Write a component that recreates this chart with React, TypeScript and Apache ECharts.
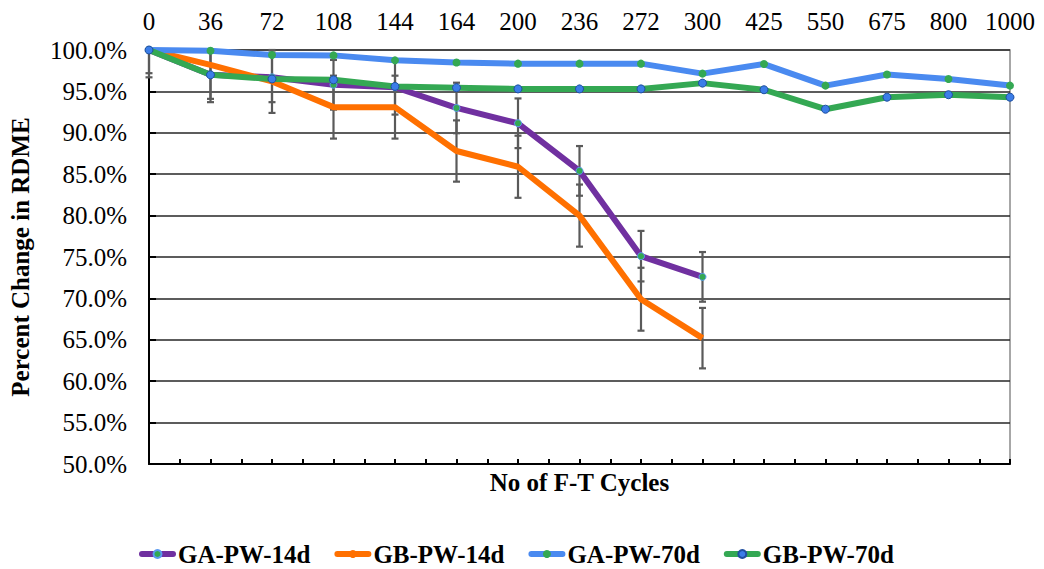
import React, { useEffect, useRef } from "react";
import * as echarts from "echarts";

const categories = ["0", "36", "72", "108", "144", "164", "200", "236", "272", "300", "425", "550", "675", "800", "1000"];

const gaPw14d = [100, 97.0, 96.7, 95.8, 95.5, 93.0, 91.15, 85.4, 75.1, 72.6];
const gbPw14d = [100, 98.2, 96.2, 93.1, 93.1, 87.8, 85.9, 80.0, 69.9, 65.2];
const gaPw70d = [100, 99.9, 99.4, 99.35, 98.75, 98.5, 98.35, 98.35, 98.35, 97.15, 98.3, 95.7, 97.05, 96.5, 95.7];
const gbPw70d = [100, 97.0, 96.5, 96.4, 95.6, 95.45, 95.3, 95.3, 95.3, 96.0, 95.2, 92.85, 94.3, 94.6, 94.3];

const gaPw14dErr = [2.8, 2.9, 3.0, 3.0, 3.3, 3.05, 3.0, 3.0, 3.05, 3.0];
const gbPw14dErr = [3.3, 4.5, 3.8, 3.8, 3.8, 3.7, 3.75, 3.75, 3.8, 3.65];

const seriesNames = ["GA-PW-14d", "GB-PW-14d", "GA-PW-70d", "GB-PW-70d"];

const FONT = '"Liberation Serif", "Times New Roman", serif';

function errData(vals: number[], errs: number[]) {
  return vals.map((v, i) => [i, v - errs[i], v + errs[i]]);
}

function renderErr(params: any, api: any) {
  const cs = params.coordSys;
  const idx = api.value(0);
  const lo = api.coord([idx, api.value(1)]);
  const hi = api.coord([idx, api.value(2)]);
  const x = lo[0];
  const top = cs.y;
  const bottom = cs.y + cs.height;
  let yHi = hi[1];
  let yLo = lo[1];
  const hiClipped = yHi < top;
  const loClipped = yLo > bottom;
  if (hiClipped) yHi = top;
  if (loClipped) yLo = bottom;
  const style = { stroke: "#5a5a5a", lineWidth: 2.2 };
  const cap = 3.5;
  const children: any[] = [
    { type: "line", shape: { x1: x, y1: yHi, x2: x, y2: yLo }, style },
  ];
  if (!hiClipped) children.push({ type: "line", shape: { x1: x - cap, y1: yHi, x2: x + cap, y2: yHi }, style });
  if (!loClipped) children.push({ type: "line", shape: { x1: x - cap, y1: yLo, x2: x + cap, y2: yLo }, style });
  return { type: "group", children };
}

export default function App() {
  const ref = useRef<HTMLDivElement>(null);
  useEffect(() => {
    if (!ref.current) return;
    const chart = echarts.init(ref.current, null, { renderer: "svg" });
    const option: any = {
      animation: false,
      backgroundColor: "#ffffff",
      textStyle: { fontFamily: FONT },
      grid: { left: 149, right: 34, top: 50, bottom: 105, show: true, borderColor: "#8a8a8a", borderWidth: 1.5 },
      legend: {
        data: seriesNames,
        left: 139,
        top: 541,
        padding: 0,
        itemWidth: 31,
        itemHeight: 10,
        itemGap: 24,
        lineStyle: { width: 6, cap: "round" },
        textStyle: { fontFamily: FONT, fontSize: 25, lineHeight: 26, fontWeight: "bold", color: "#000" },
      },
      xAxis: [
        {
          type: "category",
          data: categories,
          position: "top",
          boundaryGap: false,
          axisLine: { show: false },
          axisTick: { show: false },
          axisLabel: { fontFamily: FONT, fontSize: 25, color: "#000", margin: 16, interval: 0, hideOverlap: false },
          splitLine: { show: false },
        },
        {
          type: "value",
          position: "bottom",
          min: 0,
          max: 28,
          interval: 1,
          name: "No of F-T Cycles",
          nameLocation: "middle",
          nameGap: 6,
          nameTextStyle: { fontFamily: FONT, fontSize: 25, fontWeight: "bold", color: "#000", verticalAlign: "top" },
          axisLine: { show: true, lineStyle: { color: "#000", width: 2 } },
          axisTick: { show: true, inside: true, length: 5, lineStyle: { color: "#000", width: 2 } },
          axisLabel: { show: false },
          splitLine: { show: false },
        },
      ],
      yAxis: {
        type: "value",
        min: 50,
        max: 100,
        interval: 5,
        name: "Percent Change in RDME",
        nameLocation: "middle",
        nameGap: 116,
        nameTextStyle: { fontFamily: FONT, fontSize: 25, fontWeight: "bold", color: "#000" },
        axisLine: { show: true, lineStyle: { color: "#000", width: 2 } },
        axisTick: { show: true, inside: true, length: 7, lineStyle: { color: "#000", width: 2 } },
        axisLabel: {
          fontFamily: FONT,
          fontSize: 25,
          color: "#000",
          margin: 22,
          formatter: (v: number) => v.toFixed(1) + "%",
        },
        splitLine: { show: true, lineStyle: { color: "#262626", width: 1.5 } },
      },
      series: [
        {
          type: "custom",
          name: "errGA",
          xAxisIndex: 0,
          renderItem: renderErr,
          data: errData(gaPw14d, gaPw14dErr),
          z: 1,
          silent: true,
        },
        {
          type: "custom",
          name: "errGB",
          xAxisIndex: 0,
          renderItem: renderErr,
          data: errData(gbPw14d, gbPw14dErr),
          z: 1,
          silent: true,
        },
        {
          type: "line",
          name: seriesNames[0],
          xAxisIndex: 0,
          data: gaPw14d,
          symbol: "circle",
          symbolSize: 7,
          lineStyle: { color: "#7030A0", width: 6 },
          itemStyle: { color: "#34A853", borderColor: "#5b9bf0", borderWidth: 1 },
          z: 2,
        },
        {
          type: "line",
          name: seriesNames[1],
          xAxisIndex: 0,
          data: gbPw14d,
          symbol: "none",
          lineStyle: { color: "#FF7000", width: 6 },
          itemStyle: { color: "#FF7000" },
          z: 3,
        },
        {
          type: "line",
          name: seriesNames[2],
          xAxisIndex: 0,
          data: gaPw70d,
          symbol: "circle",
          symbolSize: 8,
          lineStyle: { color: "#4A8AF0", width: 6 },
          itemStyle: { color: "#34A853", borderColor: "#34A853", borderWidth: 0 },
          z: 4,
        },
        {
          type: "line",
          name: seriesNames[3],
          xAxisIndex: 0,
          data: gbPw70d,
          symbol: "circle",
          symbolSize: 8,
          lineStyle: { color: "#34A853", width: 6 },
          itemStyle: { color: "#3B7DE8", borderColor: "#1f4fa0", borderWidth: 1 },
          z: 5,
        },
      ],
    };
    chart.setOption(option);
    return () => chart.dispose();
  }, []);
  return (
    <div
      ref={ref}
      style={{ position: "fixed", left: 0, top: 0, width: 1044, height: 569, background: "#fff" }}
    />
  );
}
